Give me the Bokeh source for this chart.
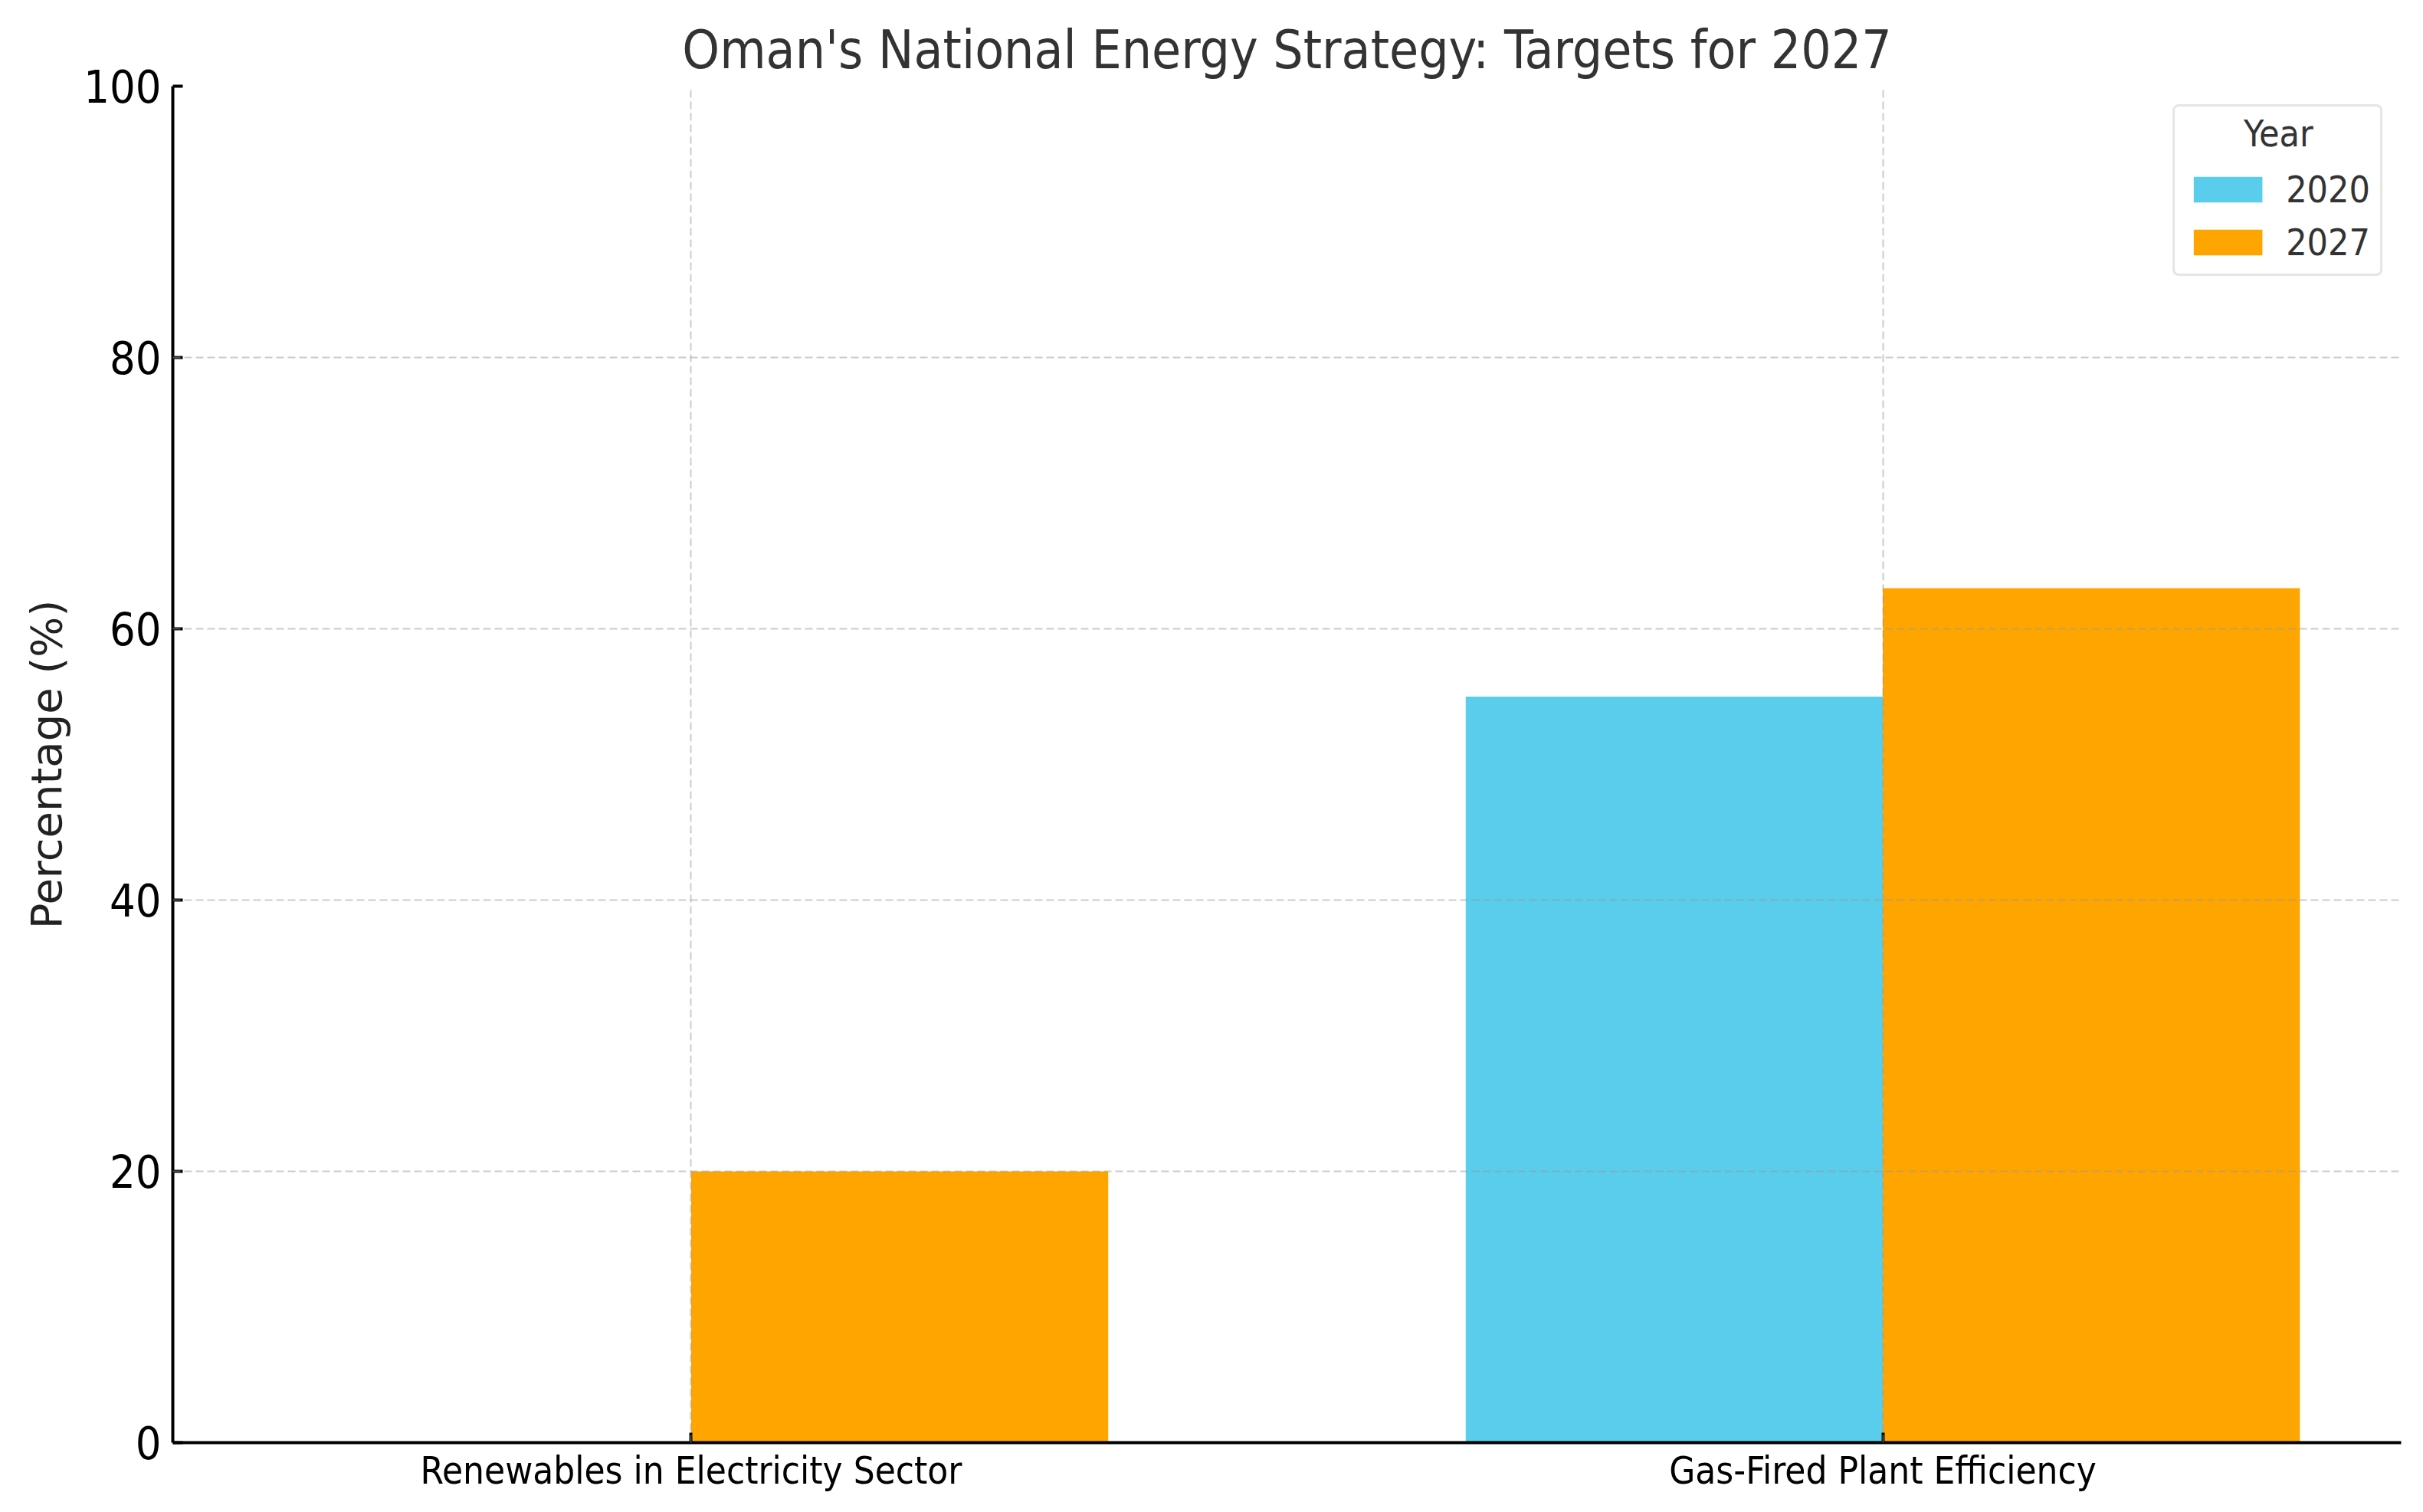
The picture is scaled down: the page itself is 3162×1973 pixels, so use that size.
from bokeh.plotting import figure
from bokeh.models import ColumnDataSource, FixedTicker, Legend, LegendItem, SingleIntervalTicker, Label
from bokeh.transform import dodge
from bokeh.embed import file_html
from bokeh.resources import INLINE

# ---- data ----
categories = ["Renewables in Electricity Sector", "Gas-Fired Plant Efficiency"]
years = ["2020", "2027"]
values_2020 = [0, 55]
values_2027 = [20, 63]
colors = ["#59CDEB", "#FFA500"]
legend_title = "Year"

FONT_C = "DejaVu Sans Condensed, DejaVu Sans"
FONT = "DejaVu Sans"

xpos = list(range(len(categories)))
src = ColumnDataSource(dict(x=xpos, v2020=values_2020, v2027=values_2027))

W, H = 3146, 1957
p = figure(width=W, height=H, output_backend="svg", toolbar_location=None,
           x_range=(-0.435, 1.435), y_range=(0, 100),
           title="Oman's National Energy Strategy: Targets for 2027")
p.min_border_left = 225
p.min_border_right = 13
p.min_border_top = 112
p.min_border_bottom = 75
p.outline_line_color = None
p.background_fill_color = "white"
p.border_fill_color = "white"

bw = 0.35
r1 = p.vbar(x=dodge("x", -bw / 2), top="v2020", width=bw, source=src,
            fill_color=colors[0], line_color=None)
r2 = p.vbar(x=dodge("x", bw / 2), top="v2027", width=bw, source=src,
            fill_color=colors[1], line_color=None)

# title
p.title.text_font = FONT_C
p.title.text_font_size = "69px"
p.title.text_font_style = "normal"
p.title.text_color = "#333333"
p.title.align = "center"
p.title.standoff = 16

# axes
p.xaxis.ticker = FixedTicker(ticks=xpos)
p.xaxis.major_label_overrides = {i: c for i, c in zip(xpos, categories)}
p.xaxis.major_label_text_font = FONT_C
p.xaxis.major_label_text_font_size = "49px"
p.xaxis.major_label_text_color = "#000000"
p.xaxis.major_label_standoff = 8
p.yaxis.ticker = SingleIntervalTicker(interval=20)
p.yaxis.minor_tick_line_color = None
p.xaxis.minor_tick_line_color = None
p.yaxis.major_label_text_font = FONT_C
p.yaxis.major_label_text_font_size = "59px"
p.yaxis.major_label_text_color = "#000000"
p.yaxis.major_label_standoff = 11
p.yaxis.axis_label = "Percentage (%)"
p.yaxis.axis_label_text_font = FONT
p.yaxis.axis_label_text_font_size = "56px"
p.yaxis.axis_label_text_font_style = "normal"
p.yaxis.axis_label_text_color = "#222222"
p.yaxis.axis_label_standoff = 13
for ax in (p.xaxis, p.yaxis):
    ax.axis_line_width = 4
    ax.axis_line_color = "#000000"
    ax.major_tick_line_width = 4
    ax.major_tick_line_color = "#000000"
    ax.major_tick_in = 13
    ax.major_tick_out = 0

# grid
for g in (p.xgrid, p.ygrid):
    g.grid_line_color = "#9a9a9a"
    g.grid_line_alpha = 0.5
    g.grid_line_width = 2
    g.grid_line_dash = "10 5"
    g.level = "overlay"
p.xgrid.ticker = FixedTicker(ticks=xpos)

legend = Legend(items=[LegendItem(label=years[0], renderers=[r1]),
                       LegendItem(label=years[1], renderers=[r2])],
                location="top_right", title=" ")
legend.margin = 24
legend.padding = 13
legend.spacing = 13
legend.glyph_width = 112
legend.glyph_height = 42
legend.label_height = 48
legend.label_standoff = 20
legend.label_text_font = FONT_C
legend.label_text_font_size = "48px"
legend.label_text_color = "#333333"
legend.title_text_font = FONT_C
legend.title_text_font_size = "48px"
legend.title_text_font_style = "normal"
legend.title_text_color = "#333333"
legend.title_standoff = 11
legend.border_line_color = "#cccccc"
legend.border_line_width = 3
legend.border_radius = 8
legend.background_fill_alpha = 0.0
p.add_layout(legend)

# legend title, centred over the legend box
year_label = Label(x=1.332, y=96.55, text=legend_title, text_align="center",
                   text_baseline="middle", text_font=FONT_C, text_font_size="48px",
                   text_color="#333333", level="overlay")
p.add_layout(year_label)

open("out.html", "w").write(file_html(p, INLINE))
